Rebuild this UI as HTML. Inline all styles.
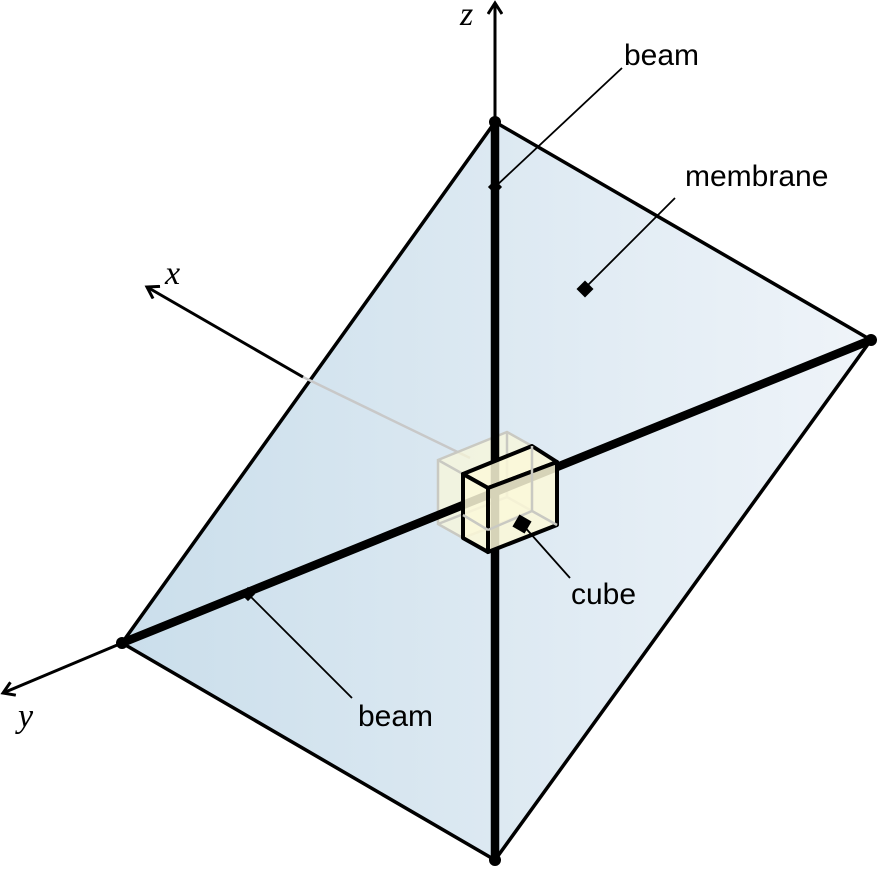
<html><body style="margin:0;background:#fff">
<svg width="877" height="870" viewBox="0 0 877 870" xmlns="http://www.w3.org/2000/svg">
<defs>
<linearGradient id="g" x1="0" x2="1" y1="0" y2="0">
<stop offset="0" stop-color="#cadeeb"/><stop offset="1" stop-color="#eff4f9"/>
</linearGradient>
<marker id="a" markerWidth="16" markerHeight="16" refX="13" refY="8" orient="auto" markerUnits="userSpaceOnUse">
<path d="M2,1 L13,8 L2,15" fill="none" stroke="#000" stroke-width="3"/>
</marker>
</defs>
<polygon points="495,122 871,340 495,860 122,643" fill="url(#g)" stroke="#000" stroke-width="3.5" stroke-linejoin="round"/>
<line x1="470" y1="458" x2="303" y2="377" stroke="#c8c8c8" stroke-width="2.5"/>
<line x1="303" y1="377" x2="147" y2="287" stroke="#000" stroke-width="3" marker-end="url(#a)"/>
<line x1="122" y1="643" x2="3" y2="693" stroke="#000" stroke-width="3" marker-end="url(#a)"/>
<line x1="495" y1="122" x2="495" y2="3" stroke="#000" stroke-width="3" marker-end="url(#a)"/>
<g fill="#fbf8d8" fill-opacity="0.7" stroke="#c9c9c2" stroke-width="2.5">
<polygon points="438,460 507,432 532,446 532,511 463,538 438,524"/>
</g>
<g fill="none" stroke="#c9c9c2" stroke-width="2.5">
<polyline points="438,460 463,474 532,446"/><line x1="463" y1="474" x2="463" y2="538"/>
<polyline points="507,432 507,497 438,524"/><line x1="507" y1="497" x2="532" y2="511"/>
</g>
<line x1="495" y1="122" x2="495" y2="860" stroke="#000" stroke-width="8.5" stroke-linecap="round"/>
<line x1="122" y1="643" x2="871" y2="340" stroke="#000" stroke-width="8.5" stroke-linecap="round"/>
<g stroke="#000" stroke-width="4" stroke-linejoin="round" fill="#fbf8d8" fill-opacity="0.85">
<polygon points="463,474 532,446 557,462 488,488"/>
<polygon points="463,474 488,488 488,552 463,538"/>
<polygon points="488,488 557,462 557,525 488,552"/>
</g>
<g fill="none" stroke="#c9c9c2" stroke-width="2.5">
<polyline points="532,446 532,511 557,525"/><line x1="532" y1="511" x2="488" y2="530"/><line x1="463" y1="515" x2="488" y2="530"/>
</g>
<g stroke="#000" stroke-width="1.8">
<line x1="495" y1="187" x2="622" y2="68"/>
<line x1="585" y1="288" x2="675" y2="198"/>
<line x1="522" y1="524" x2="570" y2="578"/>
<line x1="248" y1="594" x2="352" y2="698"/>
</g>
<g fill="#000">
<rect x="-6" y="-6" width="12" height="12" transform="translate(585,289) rotate(45)"/>
<rect x="-7" y="-7" width="14" height="14" transform="translate(522,524) rotate(30)"/>
<rect x="-5" y="-5" width="10" height="10" transform="translate(495,187) rotate(45)"/>
<rect x="-5" y="-5" width="10" height="10" transform="translate(248,594) rotate(45)"/>
<circle cx="495" cy="122" r="6"/><circle cx="871" cy="340" r="6"/><circle cx="495" cy="860" r="6"/><circle cx="122" cy="643" r="6"/>
</g>
<g font-family="Liberation Sans, sans-serif" font-size="30" fill="#000">
<text x="624" y="65">beam</text>
<text x="685" y="186">membrane</text>
<text x="571" y="604">cube</text>
<text x="358" y="726">beam</text>
</g>
<g font-family="Liberation Serif, serif" font-style="italic" font-size="34" fill="#000">
<text x="460" y="25">z</text>
<text x="165" y="284">x</text>
<text x="18" y="727">y</text>
</g>
</svg>
</body></html>
